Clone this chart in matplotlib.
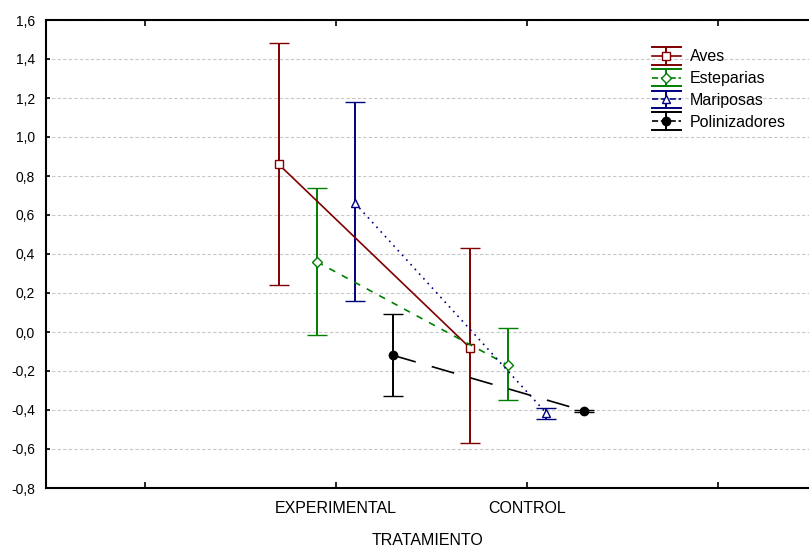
import matplotlib
matplotlib.use("Agg")
import matplotlib.pyplot as plt
from matplotlib.container import ErrorbarContainer
from matplotlib.legend_handler import HandlerBase
from matplotlib.lines import Line2D
from matplotlib.ticker import FuncFormatter, MultipleLocator

plt.rcParams['font.family'] = ['Liberation Sans', 'DejaVu Sans']

categories = ["EXPERIMENTAL", "CONTROL"]
series = ["Aves", "Esteparias", "Mariposas", "Polinizadores"]

aves_mean = [0.86, -0.08]
aves_low = [0.24, -0.57]
aves_high = [1.48, 0.43]

estep_mean = [0.36, -0.17]
estep_low = [-0.015, -0.35]
estep_high = [0.74, 0.02]

marip_mean = [0.66, -0.415]
marip_low = [0.16, -0.445]
marip_high = [1.18, -0.39]

poli_mean = [-0.12, -0.405]
poli_low = [-0.33, -0.41]
poli_high = [0.09, -0.40]

offsets = [-0.3, -0.1, 0.1, 0.3]
colors = ["#800000", "#008000", "#000080", "#000000"]
markers = ["s", "D", "^", "o"]
marker_sizes = [6, 5, 6, 6]
marker_faces = ["white", "white", "white", "#000000"]
line_styles = ["-", (0, (4, 4.5)), (0, (1, 2.8)), (0, (14, 10))]

data = [
    (aves_mean, aves_low, aves_high),
    (estep_mean, estep_low, estep_high),
    (marip_mean, marip_low, marip_high),
    (poli_mean, poli_low, poli_high),
]


class WideCapHandler(HandlerBase):
    """Legend key: mean line with marker, a short vertical bar and caps spanning the key."""

    def create_artists(self, legend, orig_handle, xdescent, ydescent,
                       width, height, fontsize, trans):
        src = orig_handle.lines[0]
        c = src.get_color()
        x0 = -xdescent
        x1 = x0 + width
        xm = (x0 + x1) / 2
        ym = -ydescent + height / 2
        h = 6.2
        arts = [
            Line2D([x0, x1], [ym, ym], color=c, linestyle=src.get_linestyle(),
                   linewidth=src.get_linewidth()),
            Line2D([xm, xm], [ym - h, ym + h], color=c, linewidth=1.4),
            Line2D([x0, x1], [ym + h, ym + h], color=c, linewidth=1.4),
            Line2D([x0, x1], [ym - h, ym - h], color=c, linewidth=1.4),
            Line2D([xm], [ym], linestyle="none", marker=src.get_marker(),
                   markersize=src.get_markersize(),
                   markerfacecolor=src.get_markerfacecolor(),
                   markeredgecolor=c, markeredgewidth=1.0),
        ]
        for a in arts:
            a.set_transform(trans)
        return arts


fig = plt.figure(figsize=(8.09, 5.49), dpi=100)
ax = fig.add_axes([46 / 809, 1 - 488 / 549, (809 - 46) / 809, (488 - 20) / 549])

cat_pos = [1, 2]
for name, (m, lo, hi), off, c, mk, ms, mf, ls in zip(
        series, data, offsets, colors, markers, marker_sizes, marker_faces, line_styles):
    xs = [p + off for p in cat_pos]
    yerr = [[mv - l for mv, l in zip(m, lo)], [h - mv for mv, h in zip(m, hi)]]
    ax.errorbar(xs, m, yerr=yerr, color=c, linestyle=ls, linewidth=1.2,
                marker=mk, markersize=ms, markerfacecolor=mf, markeredgecolor=c,
                markeredgewidth=1.0, capsize=7.5, capthick=1.4, elinewidth=1.4,
                label=name)

ax.set_xlim(-0.518, 3.476)
ax.set_ylim(-0.8, 1.6)
ax.set_xticks([0, 1, 2, 3])
ax.set_xticklabels(["", categories[0], categories[1], ""])
ax.yaxis.set_major_locator(MultipleLocator(0.2))
ax.yaxis.set_major_formatter(
    FuncFormatter(lambda v, p: f"{v:.1f}".replace(".", ",").replace("-0,0", "0,0")))

ax.grid(axis='y', color="#c8c8c8", linestyle=(0, (3, 2)), linewidth=0.8)
ax.set_axisbelow(True)
ax.tick_params(axis='x', direction='in', top=True, bottom=True, length=4,
               width=1.2, labelsize=11.5, pad=9.5)
ax.tick_params(axis='y', direction='in', left=True, right=False, length=3,
               width=1.2, labelsize=10, pad=8)
for s in ax.spines.values():
    s.set_linewidth(1.5)
ax.spines['right'].set_visible(False)

ax.set_xlabel("TRATAMIENTO", fontsize=11.5, labelpad=12)

ax.legend(loc='upper left', bbox_to_anchor=(0.794, 0.937), frameon=False,
          fontsize=11.5, handlelength=1.8, labelspacing=0.42, handletextpad=0.6,
          borderpad=0, borderaxespad=0,
          handler_map={ErrorbarContainer: WideCapHandler()})

fig.savefig("out.png", dpi=100)
